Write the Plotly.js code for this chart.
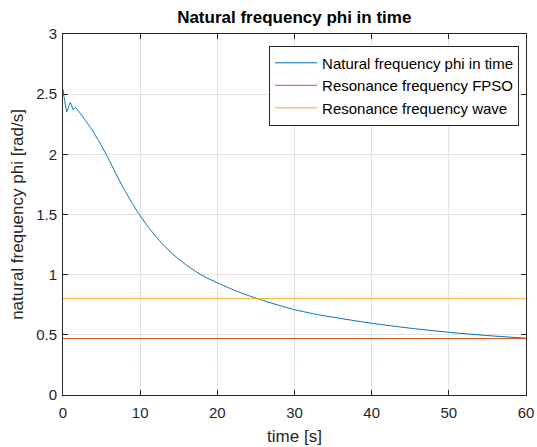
<!DOCTYPE html>
<html>
<head>
<meta charset="utf-8">
<script src="https://cdn.plot.ly/plotly-3.0.1.min.js"></script>
<style>
html,body{margin:0;padding:0;background:#fff;}
#chart{width:537px;height:447px;}
</style>
</head>
<body>
<div id="chart"></div>
<script>
// Natural frequency phi over time
var timeS = [0, 0.2, 0.5, 0.75, 0.95, 1.15, 1.3, 1.6, 1.95, 2.6, 3.2, 3.9, 4.5, 5, 6, 7, 8, 9, 10, 11, 12, 13, 14, 15, 16, 17, 18, 19, 20, 22, 24, 26, 28, 30, 33, 36, 40, 45, 50, 55, 60];
var naturalFreq = [2.54, 2.45, 2.355, 2.40, 2.43, 2.40, 2.37, 2.39, 2.365, 2.31, 2.255, 2.19, 2.125, 2.07, 1.95, 1.82, 1.70, 1.59, 1.49, 1.40, 1.32, 1.248, 1.185, 1.129, 1.079, 1.035, 0.996, 0.962, 0.932, 0.876, 0.827, 0.784, 0.745, 0.709, 0.668, 0.636, 0.596, 0.555, 0.521, 0.494, 0.472];
var constTime = [0, 60];
var fpsoFreq = [0.47, 0.47];
var waveFreq = [0.80, 0.80];
var seriesNames = ["Natural frequency phi in time", "Resonance frequency FPSO", "Resonance frequency wave"];
var xTicks = [0, 10, 20, 30, 40, 50, 60];
var yTicks = [0, 0.5, 1, 1.5, 2, 2.5, 3];

var font = "'Liberation Sans', Arial, sans-serif";
var traces = [
  {x: timeS, y: naturalFreq, mode: "lines", name: seriesNames[0], line: {color: "#0072BD", width: 1, shape: "spline", smoothing: 0.5}},
  {x: constTime, y: fpsoFreq, mode: "lines", name: seriesNames[1], line: {color: "#D95319", width: 1}},
  {x: constTime, y: waveFreq, mode: "lines", name: seriesNames[2], line: {color: "#EDB120", width: 1}}
];
var axisCommon = {
  showline: true, mirror: "ticks", linecolor: "#262626", linewidth: 1,
  ticks: "inside", ticklen: 5, tickcolor: "#262626",
  showgrid: true, gridcolor: "#e3e3e3", gridwidth: 1, zeroline: false,
  tickfont: {family: font, size: 15, color: "#262626"}
};
var layout = {
  width: 537, height: 447,
  margin: {l: 63, r: 11, t: 34, b: 52, pad: 0},
  paper_bgcolor: "#fff", plot_bgcolor: "#fff",
  title: {text: "<b>Natural frequency phi in time</b>", font: {family: font, size: 17, color: "#000"}, x: 0.548, xanchor: "center", y: 0.962, yanchor: "middle"},
  xaxis: Object.assign({}, axisCommon, {range: [0, 60], tickvals: xTicks, ticklabelstandoff: 4, title: {text: "time [s]", font: {family: font, size: 17, color: "#262626"}, standoff: 10}}),
  yaxis: Object.assign({}, axisCommon, {range: [0, 3], tickvals: yTicks, ticklabelstandoff: 2, title: {text: "natural frequency phi [rad/s]", font: {family: font, size: 17, color: "#262626"}, standoff: 8}}),
  legend: {x: 0.985, y: 0.968, xanchor: "right", yanchor: "top", bgcolor: "#fff", bordercolor: "#262626", borderwidth: 1, font: {family: font, size: 15, color: "#000"}, tracegroupgap: 0, itemwidth: 42},
  showlegend: true
};
Plotly.newPlot("chart", traces, layout, {displayModeBar: false, staticPlot: true});
</script>
</body>
</html>
